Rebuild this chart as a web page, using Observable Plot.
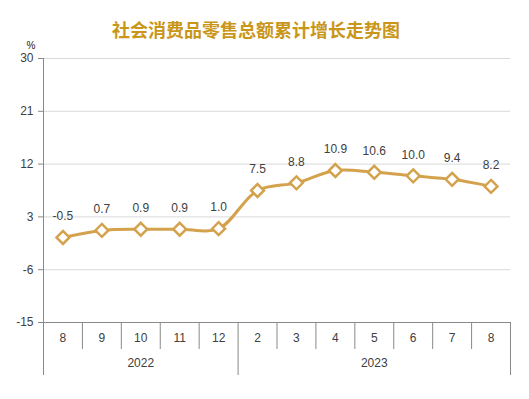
<!DOCTYPE html>
<html>
<head>
<meta charset="utf-8">
<script src="https://cdn.jsdelivr.net/npm/d3@7"></script>
<script src="https://cdn.jsdelivr.net/npm/@observablehq/plot@0.6"></script>
<style>
  html, body { margin: 0; padding: 0; background: #fff; }
</style>
</head>
<body>
<div id="chart"></div>
<script>
const titleText = "社会消费品零售总额累计增长走势图";
const months = ["8", "9", "10", "11", "12", "2", "3", "4", "5", "6", "7", "8"];
const years = ["2022", "2023"];
const yearCenters = [2, 8];
const yearBounds = [-0.5, 4.5, 11.5];
const values = [-0.5, 0.7, 0.9, 0.9, 1.0, 7.5, 8.8, 10.9, 10.6, 10.0, 9.4, 8.2];
const yTicks = [-15, -6, 3, 12, 21, 30];

const data = values.map((v, i) => ({i, month: months[i], value: v}));
const monthBounds = d3.range(12 - 1).map(k => k + 0.5).filter(b => !yearBounds.includes(b));

const gold = "#D4A24C";
const titleGold = "#C9961A";
const axisGray = "#898989";
const textColor = "#404040";

const chart = Plot.plot({
  width: 529,
  height: 399,
  marginTop: 58,
  marginBottom: 77,
  marginLeft: 43,
  marginRight: 19,
  style: {fontFamily: "'Liberation Sans', Arial, sans-serif", fontSize: "12px", background: "#fff"},
  x: {type: "linear", domain: [-0.5, 11.5]},
  y: {domain: [-15, 30]},
  marks: [
    Plot.gridY(yTicks, {stroke: "#D9D9D9", strokeOpacity: 1}),
    Plot.ruleX([-0.5], {stroke: axisGray}),
    Plot.ruleY([-15], {stroke: axisGray}),
    Plot.axisY({ticks: yTicks, tickSize: 5, tickPadding: 5, tickFormat: d => String(d), stroke: axisGray, fill: textColor, label: null, fontSize: 12}),
    Plot.axisX({ticks: monthBounds, tickSize: 27, tickFormat: () => "", stroke: axisGray, label: null}),
    Plot.axisX({ticks: yearBounds, tickSize: 53, tickFormat: () => "", stroke: axisGray, label: null}),
    Plot.axisX({ticks: d3.range(months.length), tickSize: 0, tickPadding: 11, tickFormat: i => months[i], fill: textColor, label: null, fontSize: 12}),
    Plot.axisX({ticks: yearCenters, tickSize: 0, tickPadding: 36, tickFormat: (d, k) => years[k], fill: textColor, label: null, fontSize: 12}),
    Plot.line(data, {x: "i", y: "value", stroke: gold, strokeWidth: 3, curve: "catmull-rom"}),
    Plot.dot(data, {x: "i", y: "value", symbol: "diamond2", r: 5.8, fill: "#fff", stroke: gold, strokeWidth: 2.5}),
    Plot.text(data, {x: "i", y: "value", text: d => d.value.toFixed(1), dy: -21, fill: textColor, fontSize: 12}),
    Plot.text([titleText], {frameAnchor: "top", dx: -21, dy: -34, fill: titleGold, fontSize: 18, fontWeight: "bold", fontFamily: "'Noto Sans CJK SC', sans-serif"}),
    Plot.text(["%"], {frameAnchor: "top-left", dx: -17, dy: -17, fill: "#222", fontSize: 10})
  ]
});
document.getElementById("chart").appendChild(chart);
</script>
</body>
</html>
